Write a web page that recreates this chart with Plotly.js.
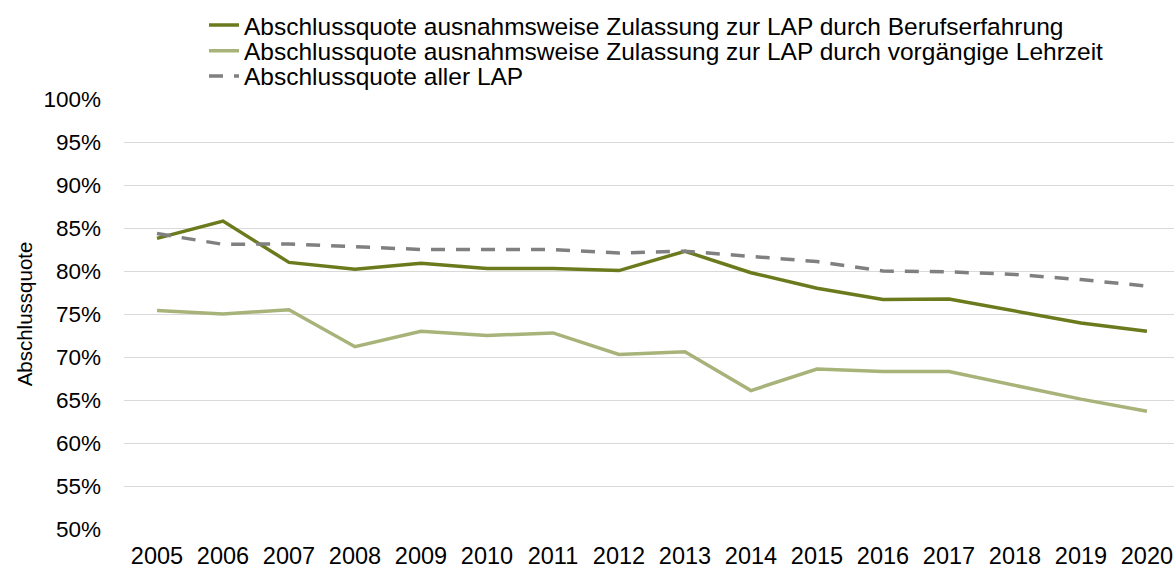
<!DOCTYPE html>
<html>
<head>
<meta charset="utf-8">
<script src="https://cdn.plot.ly/plotly-3.0.1.min.js"></script>
<style>html,body{margin:0;padding:0;background:#fff;}#chart{width:1174px;height:570px;}</style>
</head>
<body>
<div id="chart"></div>
<script>
const years = ["2005","2006","2007","2008","2009","2010","2011","2012","2013","2014","2015","2016","2017","2018","2019","2020"];
const berufserfahrung = [83.8, 85.8, 81.0, 80.2, 80.9, 80.3, 80.3, 80.05, 82.3, 79.8, 78.0, 76.7, 76.75, 75.4, 73.95, 73.0];
const lehrzeit = [75.4, 75.0, 75.5, 71.2, 73.0, 72.5, 72.8, 70.3, 70.6, 66.1, 68.6, 68.3, 68.3, 66.7, 65.1, 63.7];
const alleLAP = [84.35, 83.1, 83.15, 82.85, 82.5, 82.5, 82.5, 82.1, 82.3, 81.7, 81.1, 80.0, 79.9, 79.6, 79.0, 78.25];
const seriesNames = [
  "Abschlussquote ausnahmsweise Zulassung zur LAP durch Berufserfahrung",
  "Abschlussquote ausnahmsweise Zulassung zur LAP durch vorgängige Lehrzeit",
  "Abschlussquote aller LAP"
];
const yTicks = [50,55,60,65,70,75,80,85,90,95,100];

const font = "Liberation Sans, Arial, sans-serif";
const traces = [
  {x: years, y: berufserfahrung, name: seriesNames[0], type: "scatter", mode: "lines",
   legend: "legend", line: {color: "#6b7a1c", width: 3.5}},
  {x: years, y: lehrzeit, name: seriesNames[1], type: "scatter", mode: "lines",
   legend: "legend2", line: {color: "#a8b37a", width: 3.5}},
  {x: years, y: alleLAP, name: seriesNames[2], type: "scatter", mode: "lines",
   legend: "legend3", line: {color: "#808080", width: 3.5, dash: "14px,11px"}}
];
const legFont = {family: font, size: 24.5, color: "#000"};
function leg(y) {
  return {x: 0.0762, xanchor: "left", y: y, yanchor: "middle", orientation: "v",
          font: legFont, bgcolor: "rgba(0,0,0,0)", borderwidth: 0};
}
const layout = {
  width: 1174, height: 570,
  margin: {l: 124, r: 0, t: 99, b: 41, pad: 0},
  paper_bgcolor: "#fff", plot_bgcolor: "#fff",
  font: {family: font, size: 22, color: "#000"},
  showlegend: true,
  legend: leg(1.172),
  legend2: leg(1.1123),
  legend3: leg(1.0535),
  xaxis: {type: "category", range: [-0.5, 15.41], showgrid: false, zeroline: false,
          showline: false, ticks: "", tickfont: {family: font, size: 23.5, color: "#000"},
          ticklabelstandoff: 10},
  yaxis: {range: [50, 100], tickvals: yTicks, ticktext: yTicks.map(v => v + "%"),
          showgrid: true, gridcolor: "#d9d9d9", gridwidth: 1, zeroline: false,
          showline: false, ticks: "", ticklabelstandoff: 22,
          tickfont: {family: font, size: 22.5, color: "#000"},
          title: {text: "Abschlussquote", font: {family: font, size: 20.5, color: "#000"}, standoff: 5}}
};
Plotly.newPlot("chart", traces, layout, {displayModeBar: false, staticPlot: true});
</script>
</body>
</html>
